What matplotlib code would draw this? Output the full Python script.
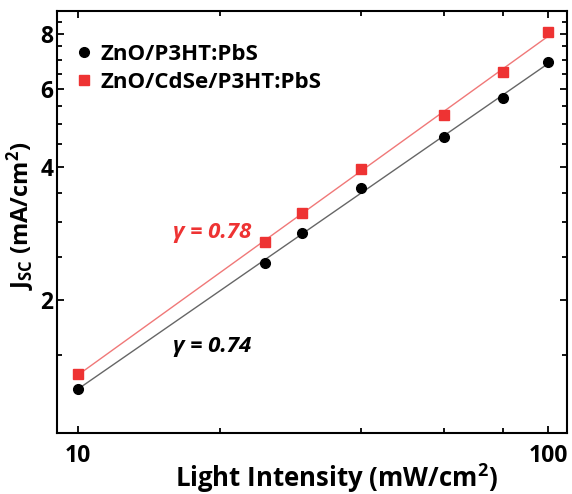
import numpy as np
import matplotlib
matplotlib.use("Agg")
import matplotlib.pyplot as plt
from matplotlib.ticker import FixedLocator, NullFormatter

plt.rcParams['font.family'] = ['Open Sans', 'DejaVu Sans']
plt.rcParams['font.weight'] = 'bold'
plt.rcParams['mathtext.fontset'] = 'custom'
plt.rcParams['mathtext.rm'] = 'Open Sans:bold'
plt.rcParams['mathtext.bf'] = 'Open Sans:bold'
plt.rcParams['mathtext.default'] = 'rm'

# Data
intensity = [10, 25, 30, 40, 60, 80, 100]                  # mW/cm^2
jsc_zno = [1.26, 2.42, 2.84, 3.59, 4.67, 5.72, 6.93]       # ZnO/P3HT:PbS
jsc_cdse = [1.36, 2.71, 3.15, 3.96, 5.25, 6.58, 8.08]      # ZnO/CdSe/P3HT:PbS
labels = ["ZnO/P3HT:PbS", "ZnO/CdSe/P3HT:PbS"]
gammas = [0.74, 0.78]

black = '#000000'
red = '#ee3333'

fig = plt.figure(figsize=(5.72, 4.94), dpi=100)
ax = fig.add_axes([0.0997, 0.1235, 0.8916, 0.8542])

# Power-law fits drawn as straight lines in log-log space
x = np.array(intensity, dtype=float)
for y, c in [(jsc_zno, '#666666'), (jsc_cdse, '#f07878')]:
    p = np.polyfit(np.log10(x), np.log10(y), 1)
    xf = np.array([x.min(), x.max()])
    ax.plot(xf, 10 ** np.polyval(p, np.log10(xf)), color=c, lw=1, zorder=1)

ax.plot(intensity, jsc_zno, 'o', color=black, ms=7, label=labels[0], zorder=3)
ax.plot(intensity, jsc_cdse, 's', color=red, ms=6.5, label=labels[1], zorder=3)

ax.set_xscale('log')
ax.set_yscale('log')
ax.set_xlim(9.02, 109.7)
ax.set_ylim(1.0, 9.02)

ax.xaxis.set_major_locator(FixedLocator([10, 100]))
ax.xaxis.set_minor_locator(FixedLocator([20, 40, 60, 80]))
ax.xaxis.set_minor_formatter(NullFormatter())
ax.set_xticklabels(['10', '100'])
ax.yaxis.set_major_locator(FixedLocator([2, 4, 6, 8]))
ax.yaxis.set_minor_locator(FixedLocator([1.5, 2.5, 3, 3.5, 4.5, 5, 5.5, 6.5, 7, 7.5, 8.5]))
ax.yaxis.set_minor_formatter(NullFormatter())
ax.set_yticklabels(['2', '4', '6', '8'])

ax.tick_params(which='both', direction='in', top=True, right=True, width=1.3)
ax.tick_params(which='major', length=5, labelsize=16.5)
ax.tick_params(axis='x', which='major', pad=8)
ax.tick_params(axis='y', which='major', pad=2.5)
ax.tick_params(which='minor', length=3.5)
for s in ax.spines.values():
    s.set_linewidth(1.5)

ax.set_xlabel('Light Intensity (mW/cm$^{2}$)', fontsize=18.5, fontweight='bold', va='baseline')
ax.xaxis.set_label_coords(0.547, -0.128)
ax.set_ylabel('J$_{SC}$ (mA/cm$^{2}$)', fontsize=17, fontweight='bold')
ax.yaxis.set_label_coords(-0.04, 0.514)

ax.text(19.3, 2.85, 'γ = %.2f' % gammas[1], color=red, fontsize=16,
        fontweight='bold', fontstyle='italic', ha='center', va='center')
ax.text(19.3, 1.566, 'γ = %.2f' % gammas[0], color=black, fontsize=16,
        fontweight='bold', fontstyle='italic', ha='center', va='center')

leg = ax.legend(loc='upper left', frameon=False, fontsize=16, handlelength=1.0,
                handletextpad=0.25, borderaxespad=0, borderpad=0, labelspacing=0.34,
                bbox_to_anchor=(0.031, 0.923))

fig.savefig('out.png', dpi=100)
